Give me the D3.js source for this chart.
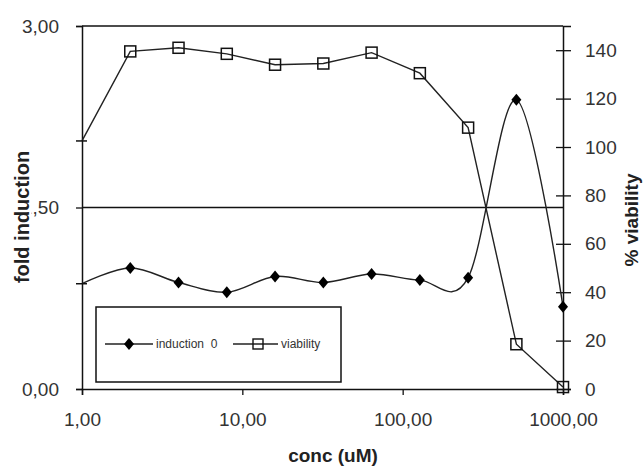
<!DOCTYPE html>
<html lang="en">
<head>
    <meta charset="UTF-8">
    <title>fold induction / viability</title>
    <script type="text/javascript" src="https://cdn.jsdelivr.net/npm/d3@7"></script>
    <style type="text/css">
        body { margin: 0; background: #fff; }
        text { font-family: Arial, "Liberation Sans", sans-serif; }
    </style>
</head>
<body>
    <script type="text/javascript">

        var w = 644;
        var h = 470;

        // data
        var conc = [1, 2, 4, 8, 16, 32, 64, 128, 256, 512, 1000];
        var induction = [0.87, 1.00, 0.88, 0.80, 0.93, 0.88, 0.95, 0.90, 0.92, 2.39, 0.68];
        var viability = [102.5, 139.5, 141, 138.5, 134, 134.5, 139, 130.5, 108, 18.5, 0.8];

        var xTicks = [1, 10, 100, 1000];
        var leftTicks = [0, 1.5, 3];
        var rightTicks = [0, 20, 40, 60, 80, 100, 120, 140];

        var plotL = 82, plotR = 563, plotT = 26, plotB = 389;

        var x = d3.scaleLog().domain([1, 1000]).range([plotL, plotR]);
        var yL = d3.scaleLinear().domain([0, 3]).range([plotB, plotT]);
        var yR = d3.scaleLinear().domain([0, 150]).range([plotB, plotT]);

        var comma = function(d) { return d3.format(".2f")(d).replace(".", ","); };

        var svg = d3.select("body")
                    .append("svg")
                    .attr("width", w)
                    .attr("height", h);

        // gridlines at 1,50 and 3,00
        svg.selectAll("line.grid")
            .data(leftTicks.slice(1))
            .enter()
            .append("line")
            .attr("class", "grid")
            .attr("x1", plotL).attr("x2", plotR)
            .attr("y1", function(d) { return yL(d); })
            .attr("y2", function(d) { return yL(d); })
            .attr("stroke", "#111")
            .attr("stroke-width", 1.3);

        // left axis
        var gL = svg.append("g")
            .attr("transform", "translate(" + plotL + ",0)")
            .call(d3.axisLeft(yL).tickValues(leftTicks).tickFormat(comma).tickSize(6).tickPadding(17));
        // bottom axis
        var gB = svg.append("g")
            .attr("transform", "translate(0," + plotB + ")")
            .call(d3.axisBottom(x).tickValues(xTicks).tickFormat(comma).tickSize(6).tickPadding(18));
        // right axis (ticks cross the line)
        var gR = svg.append("g")
            .attr("transform", "translate(" + plotR + ",0)")
            .call(d3.axisRight(yR).tickValues(rightTicks).tickSize(8).tickPadding(14));
        gR.selectAll(".tick line").attr("x1", -7);

        [gL, gB, gR].forEach(function(g) {
            g.select(".domain").attr("stroke", "#111").attr("stroke-width", 1.5);
            g.selectAll(".tick line").attr("stroke", "#111").attr("stroke-width", 1.3);
            g.selectAll(".tick text")
                .attr("font-family", "Arial, 'Liberation Sans', sans-serif")
                .attr("font-size", "19px")
                .attr("fill", "#333");
        });

        var pts = conc.map(function(c, i) { return { c: c, ind: induction[i], via: viability[i] }; });

        // induction is smoothed, viability is straight segments
        var lineInd = d3.line()
            .x(function(d) { return x(d.c); })
            .y(function(d) { return yL(d.ind); })
            .curve(d3.curveCardinal.tension(0));
        var lineVia = d3.line()
            .x(function(d) { return x(d.c); })
            .y(function(d) { return yR(d.via); });

        svg.append("path").datum(pts)
            .attr("d", lineVia)
            .attr("fill", "none")
            .attr("stroke", "#222")
            .attr("stroke-width", 1.4);
        svg.append("path").datum(pts)
            .attr("d", lineInd)
            .attr("fill", "none")
            .attr("stroke", "#222")
            .attr("stroke-width", 1.4);

        // first point: short dash marker
        svg.selectAll("line.first")
            .data([yL(induction[0]), yR(viability[0])])
            .enter()
            .append("line")
            .attr("x1", x(conc[0]) - 6).attr("x2", x(conc[0]) + 5)
            .attr("y1", function(d) { return d; })
            .attr("y2", function(d) { return d; })
            .attr("stroke", "#111")
            .attr("stroke-width", 1.5);

        // diamonds
        var diamond = "M0,-6L5,0L0,6L-5,0Z";
        svg.selectAll("path.dia")
            .data(pts.slice(1))
            .enter()
            .append("path")
            .attr("class", "dia")
            .attr("d", diamond)
            .attr("transform", function(d) { return "translate(" + x(d.c) + "," + yL(d.ind) + ")"; })
            .attr("fill", "#000");

        // open squares
        svg.selectAll("rect.sq")
            .data(pts.slice(1))
            .enter()
            .append("rect")
            .attr("class", "sq")
            .attr("x", function(d) { return x(d.c) - 5.5; })
            .attr("y", function(d) { return yR(d.via) - 5.5; })
            .attr("width", 11)
            .attr("height", 11)
            .attr("fill", "none")
            .attr("stroke", "#111")
            .attr("stroke-width", 1.5);

        // legend
        var lg = svg.append("g");
        lg.append("rect")
            .attr("x", 96).attr("y", 307)
            .attr("width", 245).attr("height", 75)
            .attr("fill", "#fff")
            .attr("stroke", "#111")
            .attr("stroke-width", 1.5);
        lg.append("line").attr("x1", 105).attr("x2", 153).attr("y1", 344).attr("y2", 344)
            .attr("stroke", "#222").attr("stroke-width", 1.4);
        lg.append("path").attr("d", diamond).attr("transform", "translate(129,344)").attr("fill", "#000");
        lg.append("text").attr("x", 156).attr("y", 348)
            .attr("font-size", "12px").attr("fill", "#333")
            .attr("xml:space", "preserve")
            .text("induction  0");
        lg.append("line").attr("x1", 233).attr("x2", 278).attr("y1", 344).attr("y2", 344)
            .attr("stroke", "#222").attr("stroke-width", 1.4);
        lg.append("rect").attr("x", 253).attr("y", 339).attr("width", 10).attr("height", 10)
            .attr("fill", "none").attr("stroke", "#111").attr("stroke-width", 1.4);
        lg.append("text").attr("x", 281).attr("y", 348)
            .attr("font-size", "12px").attr("fill", "#333")
            .text("viability");

        // axis titles
        svg.append("text")
            .attr("x", 333).attr("y", 462)
            .attr("text-anchor", "middle")
            .attr("font-size", "19px").attr("font-weight", "bold").attr("fill", "#222")
            .text("conc (uM)");
        svg.append("text")
            .attr("transform", "translate(29,217) rotate(-90)")
            .attr("text-anchor", "middle")
            .attr("font-size", "20px").attr("font-weight", "bold").attr("fill", "#222")
            .attr("stroke", "#fff").attr("stroke-width", 5).attr("paint-order", "stroke")
            .text("fold induction");
        svg.append("text")
            .attr("transform", "translate(638,220) rotate(-90)")
            .attr("text-anchor", "middle")
            .attr("font-size", "19px").attr("font-weight", "bold").attr("fill", "#222")
            .text("% viability");

    </script>
</body>
</html>
